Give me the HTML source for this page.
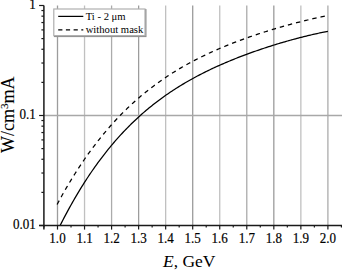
<!DOCTYPE html>
<html><head><meta charset="utf-8"><style>
html,body{margin:0;padding:0;background:#fff;}
body{width:342px;height:270px;overflow:hidden;position:relative;font-family:"Liberation Serif",serif;}
</style></head><body>
<svg width="342" height="270" viewBox="0 0 342 270" style="position:absolute;left:0;top:0">
<line x1="57.50" y1="5.50" x2="57.50" y2="225.40" stroke="#9c9c9c" stroke-width="1.3"/>
<line x1="84.54" y1="5.50" x2="84.54" y2="225.40" stroke="#c0c0c0" stroke-width="1.3"/>
<line x1="111.58" y1="5.50" x2="111.58" y2="225.40" stroke="#ababab" stroke-width="1.3"/>
<line x1="138.62" y1="5.50" x2="138.62" y2="225.40" stroke="#9c9c9c" stroke-width="1.3"/>
<line x1="165.66" y1="5.50" x2="165.66" y2="225.40" stroke="#c0c0c0" stroke-width="1.3"/>
<line x1="192.70" y1="5.50" x2="192.70" y2="225.40" stroke="#9c9c9c" stroke-width="1.3"/>
<line x1="219.74" y1="5.50" x2="219.74" y2="225.40" stroke="#c0c0c0" stroke-width="1.3"/>
<line x1="246.78" y1="5.50" x2="246.78" y2="225.40" stroke="#ababab" stroke-width="1.3"/>
<line x1="273.82" y1="5.50" x2="273.82" y2="225.40" stroke="#9c9c9c" stroke-width="1.3"/>
<line x1="300.86" y1="5.50" x2="300.86" y2="225.40" stroke="#c0c0c0" stroke-width="1.3"/>
<line x1="327.90" y1="5.50" x2="327.90" y2="225.40" stroke="#ababab" stroke-width="1.3"/>
<line x1="43.90" y1="115.50" x2="342" y2="115.50" stroke="#a8a8a8" stroke-width="1.3"/>
<g clip-path="url(#clip)">
<path d="M60.10,225.51 L61.45,222.85 L62.79,220.23 L64.14,217.65 L65.48,215.10 L66.83,212.58 L68.17,210.09 L69.52,207.64 L70.87,205.22 L72.21,202.83 L73.56,200.47 L74.90,198.14 L76.25,195.84 L77.59,193.58 L78.94,191.34 L80.29,189.13 L81.63,186.95 L82.98,184.80 L84.32,182.68 L85.67,180.58 L87.01,178.52 L88.36,176.48 L89.71,174.47 L91.05,172.48 L92.40,170.52 L93.74,168.59 L95.09,166.68 L96.43,164.80 L97.78,162.94 L99.13,161.11 L100.47,159.30 L101.82,157.52 L103.16,155.76 L104.51,154.03 L105.85,152.31 L107.20,150.62 L108.55,148.96 L109.89,147.31 L111.24,145.69 L112.58,144.09 L113.93,142.51 L115.27,140.95 L116.62,139.41 L117.97,137.90 L119.31,136.40 L120.66,134.92 L122.00,133.47 L123.35,132.03 L124.69,130.61 L126.04,129.21 L127.39,127.83 L128.73,126.47 L130.08,125.13 L131.42,123.80 L132.77,122.50 L134.12,121.21 L135.46,119.93 L136.81,118.68 L138.15,117.44 L139.50,116.21 L140.84,115.01 L142.19,113.82 L143.54,112.64 L144.88,111.48 L146.23,110.34 L147.57,109.21 L148.92,108.09 L150.26,106.99 L151.61,105.91 L152.96,104.83 L154.30,103.78 L155.65,102.73 L156.99,101.70 L158.34,100.68 L159.68,99.68 L161.03,98.69 L162.38,97.71 L163.72,96.74 L165.07,95.79 L166.41,94.84 L167.76,93.91 L169.10,92.99 L170.45,92.08 L171.80,91.19 L173.14,90.30 L174.49,89.43 L175.83,88.56 L177.18,87.71 L178.52,86.87 L179.87,86.03 L181.22,85.21 L182.56,84.40 L183.91,83.59 L185.25,82.80 L186.60,82.02 L187.94,81.24 L189.29,80.47 L190.64,79.72 L191.98,78.97 L193.33,78.23 L194.67,77.49 L196.02,76.77 L197.36,76.05 L198.71,75.35 L200.06,74.65 L201.40,73.95 L202.75,73.27 L204.09,72.59 L205.44,71.92 L206.78,71.26 L208.13,70.60 L209.48,69.95 L210.82,69.31 L212.17,68.67 L213.51,68.04 L214.86,67.42 L216.20,66.80 L217.55,66.19 L218.90,65.59 L220.24,64.99 L221.59,64.40 L222.93,63.81 L224.28,63.23 L225.62,62.65 L226.97,62.08 L228.32,61.52 L229.66,60.96 L231.01,60.40 L232.35,59.85 L233.70,59.31 L235.04,58.77 L236.39,58.23 L237.74,57.70 L239.08,57.18 L240.43,56.66 L241.77,56.14 L243.12,55.63 L244.46,55.13 L245.81,54.62 L247.16,54.13 L248.50,53.63 L249.85,53.14 L251.19,52.66 L252.54,52.18 L253.88,51.70 L255.23,51.23 L256.58,50.76 L257.92,50.29 L259.27,49.83 L260.61,49.37 L261.96,48.92 L263.31,48.47 L264.65,48.03 L266.00,47.58 L267.34,47.15 L268.69,46.71 L270.03,46.28 L271.38,45.85 L272.73,45.43 L274.07,45.01 L275.42,44.59 L276.76,44.18 L278.11,43.77 L279.45,43.37 L280.80,42.96 L282.15,42.57 L283.49,42.17 L284.84,41.78 L286.18,41.39 L287.53,41.01 L288.87,40.63 L290.22,40.25 L291.57,39.88 L292.91,39.51 L294.26,39.15 L295.60,38.79 L296.95,38.43 L298.29,38.07 L299.64,37.72 L300.99,37.38 L302.33,37.04 L303.68,36.70 L305.02,36.36 L306.37,36.03 L307.71,35.71 L309.06,35.39 L310.41,35.07 L311.75,34.75 L313.10,34.45 L314.44,34.14 L315.79,33.84 L317.13,33.54 L318.48,33.25 L319.83,32.97 L321.17,32.68 L322.52,32.41 L323.86,32.13 L325.21,31.87 L326.55,31.60 L327.90,31.35" fill="none" stroke="#000" stroke-width="1.25" stroke-linecap="butt"/>
<path d="M57.10,204.47 L58.46,201.94 L59.82,199.45 L61.18,196.99 L62.54,194.55 L63.90,192.15 L65.26,189.78 L66.63,187.43 L67.99,185.12 L69.35,182.83 L70.71,180.58 L72.07,178.35 L73.43,176.15 L74.79,173.97 L76.15,171.83 L77.51,169.71 L78.87,167.62 L80.23,165.56 L81.59,163.52 L82.96,161.50 L84.32,159.52 L85.68,157.56 L87.04,155.62 L88.40,153.71 L89.76,151.82 L91.12,149.96 L92.48,148.12 L93.84,146.30 L95.20,144.51 L96.56,142.74 L97.92,141.00 L99.28,139.27 L100.65,137.57 L102.01,135.89 L103.37,134.23 L104.73,132.60 L106.09,130.98 L107.45,129.39 L108.81,127.81 L110.17,126.26 L111.53,124.73 L112.89,123.22 L114.25,121.72 L115.61,120.25 L116.98,118.79 L118.34,117.36 L119.70,115.94 L121.06,114.54 L122.42,113.16 L123.78,111.80 L125.14,110.45 L126.50,109.12 L127.86,107.81 L129.22,106.52 L130.58,105.24 L131.94,103.98 L133.31,102.74 L134.67,101.51 L136.03,100.30 L137.39,99.10 L138.75,97.92 L140.11,96.75 L141.47,95.60 L142.83,94.47 L144.19,93.35 L145.55,92.24 L146.91,91.15 L148.27,90.07 L149.63,89.00 L151.00,87.95 L152.36,86.91 L153.72,85.89 L155.08,84.87 L156.44,83.87 L157.80,82.89 L159.16,81.91 L160.52,80.95 L161.88,80.00 L163.24,79.06 L164.60,78.14 L165.96,77.22 L167.33,76.32 L168.69,75.42 L170.05,74.54 L171.41,73.67 L172.77,72.81 L174.13,71.96 L175.49,71.12 L176.85,70.29 L178.21,69.47 L179.57,68.66 L180.93,67.86 L182.29,67.07 L183.65,66.29 L185.02,65.51 L186.38,64.75 L187.74,63.99 L189.10,63.25 L190.46,62.51 L191.82,61.78 L193.18,61.06 L194.54,60.35 L195.90,59.64 L197.26,58.95 L198.62,58.26 L199.98,57.58 L201.35,56.90 L202.71,56.24 L204.07,55.58 L205.43,54.93 L206.79,54.28 L208.15,53.64 L209.51,53.01 L210.87,52.39 L212.23,51.77 L213.59,51.15 L214.95,50.55 L216.31,49.95 L217.67,49.36 L219.04,48.77 L220.40,48.19 L221.76,47.61 L223.12,47.04 L224.48,46.48 L225.84,45.92 L227.20,45.36 L228.56,44.82 L229.92,44.27 L231.28,43.73 L232.64,43.20 L234.00,42.67 L235.37,42.15 L236.73,41.63 L238.09,41.12 L239.45,40.61 L240.81,40.11 L242.17,39.61 L243.53,39.11 L244.89,38.62 L246.25,38.13 L247.61,37.65 L248.97,37.17 L250.33,36.70 L251.69,36.23 L253.06,35.76 L254.42,35.30 L255.78,34.84 L257.14,34.39 L258.50,33.94 L259.86,33.49 L261.22,33.05 L262.58,32.61 L263.94,32.17 L265.30,31.74 L266.66,31.31 L268.02,30.88 L269.39,30.46 L270.75,30.04 L272.11,29.63 L273.47,29.22 L274.83,28.81 L276.19,28.40 L277.55,28.00 L278.91,27.60 L280.27,27.21 L281.63,26.82 L282.99,26.43 L284.35,26.04 L285.72,25.66 L287.08,25.28 L288.44,24.91 L289.80,24.54 L291.16,24.17 L292.52,23.80 L293.88,23.44 L295.24,23.08 L296.60,22.72 L297.96,22.37 L299.32,22.02 L300.68,21.67 L302.04,21.33 L303.41,20.99 L304.77,20.66 L306.13,20.32 L307.49,19.99 L308.85,19.67 L310.21,19.34 L311.57,19.02 L312.93,18.71 L314.29,18.40 L315.65,18.09 L317.01,17.78 L318.37,17.48 L319.74,17.18 L321.10,16.89 L322.46,16.59 L323.82,16.31 L325.18,16.02 L326.54,15.74 L327.90,15.47" fill="none" stroke="#000" stroke-width="1.25" stroke-dasharray="4.4,4.0" stroke-linecap="butt"/>
</g>
<defs><clipPath id="clip"><rect x="43.9" y="0" width="342" height="225.4"/></clipPath></defs>
<line x1="43.90" y1="5.50" x2="43.90" y2="229.60" stroke="#1a1a1a" stroke-width="1.5"/>
<line x1="39.10" y1="225.40" x2="342" y2="225.40" stroke="#1a1a1a" stroke-width="1.5"/>
<line x1="39.10" y1="5.50" x2="43.90" y2="5.50" stroke="#1a1a1a" stroke-width="1.2"/>
<line x1="39.10" y1="115.50" x2="43.90" y2="115.50" stroke="#1a1a1a" stroke-width="1.2"/>
<line x1="39.10" y1="225.50" x2="43.90" y2="225.50" stroke="#1a1a1a" stroke-width="1.2"/>
<line x1="41.40" y1="82.39" x2="43.90" y2="82.39" stroke="#1a1a1a" stroke-width="1.2"/>
<line x1="41.40" y1="63.02" x2="43.90" y2="63.02" stroke="#1a1a1a" stroke-width="1.2"/>
<line x1="41.40" y1="49.27" x2="43.90" y2="49.27" stroke="#1a1a1a" stroke-width="1.2"/>
<line x1="41.40" y1="38.61" x2="43.90" y2="38.61" stroke="#1a1a1a" stroke-width="1.2"/>
<line x1="41.40" y1="29.90" x2="43.90" y2="29.90" stroke="#1a1a1a" stroke-width="1.2"/>
<line x1="41.40" y1="22.54" x2="43.90" y2="22.54" stroke="#1a1a1a" stroke-width="1.2"/>
<line x1="41.40" y1="16.16" x2="43.90" y2="16.16" stroke="#1a1a1a" stroke-width="1.2"/>
<line x1="41.40" y1="10.53" x2="43.90" y2="10.53" stroke="#1a1a1a" stroke-width="1.2"/>
<line x1="41.40" y1="192.39" x2="43.90" y2="192.39" stroke="#1a1a1a" stroke-width="1.2"/>
<line x1="41.40" y1="173.02" x2="43.90" y2="173.02" stroke="#1a1a1a" stroke-width="1.2"/>
<line x1="41.40" y1="159.27" x2="43.90" y2="159.27" stroke="#1a1a1a" stroke-width="1.2"/>
<line x1="41.40" y1="148.61" x2="43.90" y2="148.61" stroke="#1a1a1a" stroke-width="1.2"/>
<line x1="41.40" y1="139.90" x2="43.90" y2="139.90" stroke="#1a1a1a" stroke-width="1.2"/>
<line x1="41.40" y1="132.54" x2="43.90" y2="132.54" stroke="#1a1a1a" stroke-width="1.2"/>
<line x1="41.40" y1="126.16" x2="43.90" y2="126.16" stroke="#1a1a1a" stroke-width="1.2"/>
<line x1="41.40" y1="120.53" x2="43.90" y2="120.53" stroke="#1a1a1a" stroke-width="1.2"/>
<line x1="43.98" y1="225.40" x2="43.98" y2="227.60" stroke="#1a1a1a" stroke-width="1.2"/>
<line x1="57.50" y1="225.40" x2="57.50" y2="229.60" stroke="#1a1a1a" stroke-width="1.2"/>
<line x1="71.02" y1="225.40" x2="71.02" y2="227.60" stroke="#1a1a1a" stroke-width="1.2"/>
<line x1="84.54" y1="225.40" x2="84.54" y2="229.60" stroke="#1a1a1a" stroke-width="1.2"/>
<line x1="98.06" y1="225.40" x2="98.06" y2="227.60" stroke="#1a1a1a" stroke-width="1.2"/>
<line x1="111.58" y1="225.40" x2="111.58" y2="229.60" stroke="#1a1a1a" stroke-width="1.2"/>
<line x1="125.10" y1="225.40" x2="125.10" y2="227.60" stroke="#1a1a1a" stroke-width="1.2"/>
<line x1="138.62" y1="225.40" x2="138.62" y2="229.60" stroke="#1a1a1a" stroke-width="1.2"/>
<line x1="152.14" y1="225.40" x2="152.14" y2="227.60" stroke="#1a1a1a" stroke-width="1.2"/>
<line x1="165.66" y1="225.40" x2="165.66" y2="229.60" stroke="#1a1a1a" stroke-width="1.2"/>
<line x1="179.18" y1="225.40" x2="179.18" y2="227.60" stroke="#1a1a1a" stroke-width="1.2"/>
<line x1="192.70" y1="225.40" x2="192.70" y2="229.60" stroke="#1a1a1a" stroke-width="1.2"/>
<line x1="206.22" y1="225.40" x2="206.22" y2="227.60" stroke="#1a1a1a" stroke-width="1.2"/>
<line x1="219.74" y1="225.40" x2="219.74" y2="229.60" stroke="#1a1a1a" stroke-width="1.2"/>
<line x1="233.26" y1="225.40" x2="233.26" y2="227.60" stroke="#1a1a1a" stroke-width="1.2"/>
<line x1="246.78" y1="225.40" x2="246.78" y2="229.60" stroke="#1a1a1a" stroke-width="1.2"/>
<line x1="260.30" y1="225.40" x2="260.30" y2="227.60" stroke="#1a1a1a" stroke-width="1.2"/>
<line x1="273.82" y1="225.40" x2="273.82" y2="229.60" stroke="#1a1a1a" stroke-width="1.2"/>
<line x1="287.34" y1="225.40" x2="287.34" y2="227.60" stroke="#1a1a1a" stroke-width="1.2"/>
<line x1="300.86" y1="225.40" x2="300.86" y2="229.60" stroke="#1a1a1a" stroke-width="1.2"/>
<line x1="314.38" y1="225.40" x2="314.38" y2="227.60" stroke="#1a1a1a" stroke-width="1.2"/>
<line x1="327.90" y1="225.40" x2="327.90" y2="229.60" stroke="#1a1a1a" stroke-width="1.2"/>
<line x1="341.42" y1="225.40" x2="341.42" y2="227.60" stroke="#1a1a1a" stroke-width="1.2"/>
<rect x="54.599999999999994" y="9.8" width="91.2" height="26.6" fill="none" stroke="#8c8c8c" stroke-width="1.4"/>
<rect x="53.8" y="9.0" width="91.2" height="26.6" fill="#fff" stroke="#b0b0b0" stroke-width="1.2"/>
<line x1="58.2" y1="16.4" x2="83.3" y2="16.4" stroke="#000" stroke-width="1.25"/>
<line x1="58.2" y1="29.8" x2="83.3" y2="29.8" stroke="#000" stroke-width="1.25" stroke-dasharray="4.2,3.5"/>
<text x="85.7" y="20.4" font-family="Liberation Serif" font-size="10.65">Ti - 2 μm</text>
<text x="85.7" y="32.7" font-family="Liberation Serif" font-size="10.65">without mask</text>
<text transform="translate(57.50 243.3) scale(0.92 1)" font-family="Liberation Serif" stroke="#000" stroke-width="0.2" font-size="14.2" text-anchor="middle">1.0</text>
<text transform="translate(84.54 243.3) scale(0.92 1)" font-family="Liberation Serif" stroke="#000" stroke-width="0.2" font-size="14.2" text-anchor="middle">1.1</text>
<text transform="translate(111.58 243.3) scale(0.92 1)" font-family="Liberation Serif" stroke="#000" stroke-width="0.2" font-size="14.2" text-anchor="middle">1.2</text>
<text transform="translate(138.62 243.3) scale(0.92 1)" font-family="Liberation Serif" stroke="#000" stroke-width="0.2" font-size="14.2" text-anchor="middle">1.3</text>
<text transform="translate(165.66 243.3) scale(0.92 1)" font-family="Liberation Serif" stroke="#000" stroke-width="0.2" font-size="14.2" text-anchor="middle">1.4</text>
<text transform="translate(192.70 243.3) scale(0.92 1)" font-family="Liberation Serif" stroke="#000" stroke-width="0.2" font-size="14.2" text-anchor="middle">1.5</text>
<text transform="translate(219.74 243.3) scale(0.92 1)" font-family="Liberation Serif" stroke="#000" stroke-width="0.2" font-size="14.2" text-anchor="middle">1.6</text>
<text transform="translate(246.78 243.3) scale(0.92 1)" font-family="Liberation Serif" stroke="#000" stroke-width="0.2" font-size="14.2" text-anchor="middle">1.7</text>
<text transform="translate(273.82 243.3) scale(0.92 1)" font-family="Liberation Serif" stroke="#000" stroke-width="0.2" font-size="14.2" text-anchor="middle">1.8</text>
<text transform="translate(300.86 243.3) scale(0.92 1)" font-family="Liberation Serif" stroke="#000" stroke-width="0.2" font-size="14.2" text-anchor="middle">1.9</text>
<text transform="translate(327.90 243.3) scale(0.92 1)" font-family="Liberation Serif" stroke="#000" stroke-width="0.2" font-size="14.2" text-anchor="middle">2.0</text>
<text transform="translate(35.8 9.20) scale(0.92 1)" font-family="Liberation Serif" stroke="#000" stroke-width="0.2" font-size="14.2" text-anchor="end">1</text>
<text transform="translate(35.8 119.20) scale(0.92 1)" font-family="Liberation Serif" stroke="#000" stroke-width="0.2" font-size="14.2" text-anchor="end">0.1</text>
<text transform="translate(35.8 229.20) scale(0.92 1)" font-family="Liberation Serif" stroke="#000" stroke-width="0.2" font-size="14.2" text-anchor="end">0.01</text>
<text x="163.0" y="266.6" font-family="Liberation Serif" font-size="17.5"><tspan font-style="italic">E</tspan>, GeV</text>
<text transform="translate(13.6,114.7) rotate(-90)" font-family="Liberation Serif" stroke="#000" stroke-width="0.1" font-size="18.0" text-anchor="middle">W/cm<tspan font-size="11.16" dy="-5.94">3</tspan><tspan dy="5.94">mA</tspan></text>
</svg>
</body></html>
